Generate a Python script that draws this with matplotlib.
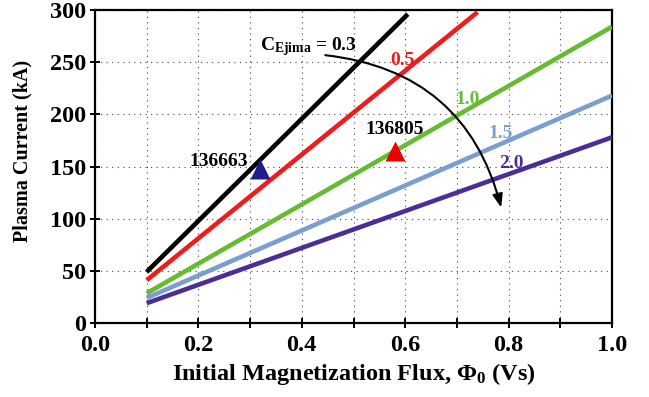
import numpy as np
import matplotlib.pyplot as plt
from matplotlib.ticker import MultipleLocator

plt.rcParams['font.family'] = ['Liberation Serif', 'DejaVu Serif']
plt.rcParams['font.weight'] = 'bold'
plt.rcParams['axes.labelweight'] = 'bold'
plt.rcParams['mathtext.fontset'] = 'custom'
plt.rcParams['mathtext.rm'] = 'Liberation Serif:bold'
plt.rcParams['mathtext.it'] = 'Liberation Serif:bold'
plt.rcParams['mathtext.bf'] = 'Liberation Serif:bold'

# Ejima coefficient curves: flux (Vs) vs plasma current (kA)
c_ejima = ['0.3', '0.5', '1.0', '1.5', '2.0']
flux_start = [0.1, 0.1, 0.1, 0.1, 0.1]
flux_end = [0.605, 0.74, 1.0, 1.0, 1.0]
ip_start = [49, 41, 28.5, 24, 19]
ip_end = [296, 298, 284, 218, 178]
colors = ['black', '#ee1c1c', '#66bb33', '#7a9fcf', '#4a2e95']

# discharges
shots = ['136663', '136805']
shot_flux = [0.32, 0.58]
shot_ip = [148, 165]
shot_colors = ['#1f1f8a', '#ee0000']

fig = plt.figure(figsize=(6.49, 3.97), dpi=100)
ax = fig.add_axes([0.1464, 0.1864, 0.7966, 0.7884])

for i in range(len(c_ejima)):
    ax.plot([flux_start[i], flux_end[i]], [ip_start[i], ip_end[i]],
            color=colors[i], lw=3.3, solid_capstyle='butt', zorder=3)

for i in range(len(shots)):
    ax.plot(shot_flux[i], shot_ip[i], marker='^', ms=14, color=shot_colors[i],
            mec='none', zorder=4)

ax.text(0.295, 155, shots[0], fontsize=14, ha='right', va='center')
ax.text(0.58, 185, shots[1], fontsize=14, ha='center', va='center')

ax.text(0.32, 265, r'C$_{\mathrm{Ejima}}$ = 0.3', fontsize=14, ha='left', va='center')
ax.text(0.595, 252, c_ejima[1], fontsize=14, color=colors[1], ha='center', va='center')
ax.text(0.72, 214, c_ejima[2], fontsize=14, color=colors[2], ha='center', va='center')
ax.text(0.785, 182, c_ejima[3], fontsize=14, color=colors[3], ha='center', va='center')
ax.text(0.805, 153, c_ejima[4], fontsize=14, color=colors[4], ha='center', va='center')

ax.annotate('', xy=(0.787, 108), xytext=(0.44, 257),
            arrowprops=dict(arrowstyle='-|>,head_length=0.8,head_width=0.3',
                            color='black', lw=1.5,
                            connectionstyle='arc3,rad=-0.35'), zorder=5)

ax.set_xlim(0, 1.0)
ax.set_ylim(0, 300)
ax.xaxis.set_major_locator(MultipleLocator(0.2))
ax.xaxis.set_minor_locator(MultipleLocator(0.1))
ax.yaxis.set_major_locator(MultipleLocator(50))
ax.set_xticklabels([f'{v:.1f}' for v in ax.get_xticks()])

ax.grid(True, which='both', axis='x', color='#444444', lw=0.8, ls=(0, (1, 4)))
ax.grid(True, which='major', axis='y', color='#444444', lw=0.8, ls=(0, (1, 4)))
ax.set_axisbelow(True)

for s in ax.spines.values():
    s.set_linewidth(1.6)
ax.tick_params(which='both', direction='inout', length=7, width=1.4, labelsize=17.5)
ax.tick_params(axis='x', pad=5)
ax.tick_params(axis='y', pad=3)

ax.set_xlabel(r'Initial Magnetization Flux, $\Phi_0$ (Vs)', fontsize=17.5, labelpad=4)
ax.set_ylabel('Plasma Current (kA)', fontsize=14.5)
ax.yaxis.set_label_coords(-0.12, 0.55)

fig.savefig('out.png', dpi=100)
